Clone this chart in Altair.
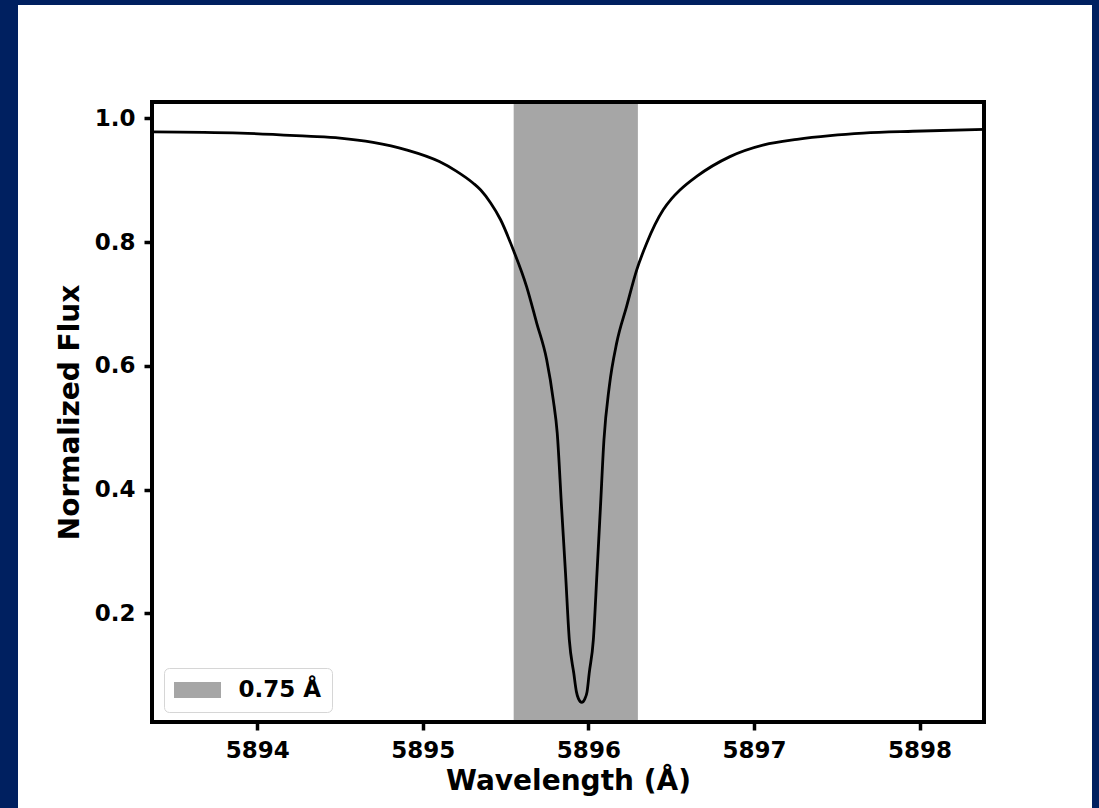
import altair as alt
import pandas as pd

# ---- data ----
wavelength = [5893.37, 5893.90, 5894.30, 5894.50, 5894.70, 5894.90, 5895.10, 5895.20,
              5895.305, 5895.35, 5895.41, 5895.47, 5895.547, 5895.627, 5895.688, 5895.748,
              5895.788, 5895.812, 5895.838, 5895.862, 5895.885, 5895.912, 5895.928, 5895.940,
              5895.960, 5895.979, 5895.992, 5896.005, 5896.030, 5896.052, 5896.073, 5896.094,
              5896.126, 5896.171, 5896.231, 5896.292, 5896.352, 5896.452, 5896.503, 5896.553,
              5896.654, 5896.855, 5897.06, 5897.26, 5897.46, 5897.66, 5897.96, 5898.39]
flux = [0.978, 0.976, 0.971, 0.968, 0.961, 0.949, 0.930, 0.915,
        0.895, 0.884, 0.863, 0.836, 0.787, 0.728, 0.669, 0.610,
        0.545, 0.491, 0.372, 0.265, 0.157, 0.103, 0.073, 0.062,
        0.056, 0.062, 0.073, 0.103, 0.157, 0.265, 0.372, 0.480,
        0.566, 0.637, 0.696, 0.755, 0.798, 0.852, 0.870, 0.884,
        0.906, 0.938, 0.957, 0.966, 0.972, 0.976, 0.979, 0.982]
band_start = [5895.549]
band_end = [5896.299]
band_label = ["0.75 Å"]
x_ticks = [5894, 5895, 5896, 5897, 5898]
y_ticks = [0.2, 0.4, 0.6, 0.8, 1.0]

FONT = "DejaVu Sans"
NAVY = "#002060"
BAND = "#a6a6a6"

line_df = pd.DataFrame({"wavelength": wavelength, "flux": flux})
band_df = pd.DataFrame({"start": band_start, "end": band_end, "label": band_label})
one_df = pd.DataFrame({"k": [0]})

x_scale = alt.Scale(domain=[5893.365, 5898.389], nice=False, zero=False)
y_scale = alt.Scale(domain=[0.0243, 1.0263], nice=False, zero=False)

common_axis = dict(
    grid=False, domain=False, ticks=True, tickSize=8, tickWidth=3.5, tickColor="black",
    tickOpacity=1,
    labelFont=FONT, labelFontSize=23, labelFontWeight="bold", labelColor="black",
    labelPadding=9, labelFlush=False,
    titleFont=FONT, titleFontSize=28, titleFontWeight="bold", titleColor="black",
    zindex=1,
)
x_axis = alt.Axis(title="Wavelength (Å)", values=x_ticks, format="d", titlePadding=5, **common_axis)
y_axis = alt.Axis(title="Normalized Flux", values=y_ticks, format=".1f", titlePadding=10, **common_axis)

# white figure panel on navy background
panel = alt.Chart(one_df).mark_rect(color="white").encode(
    x=alt.value(-134), x2=alt.value(940), y=alt.value(-97), y2=alt.value(720)
)

band = alt.Chart(band_df).mark_rect(opacity=1).encode(
    x=alt.X("start:Q", scale=x_scale, axis=x_axis),
    x2="end:Q",
    y=alt.value(0),
    y2=alt.value("height"),
    color=alt.Color(
        "label:N",
        scale=alt.Scale(domain=band_label, range=[BAND]),
        legend=alt.Legend(
            title=None, orient="none", legendX=12, legendY=566, direction="vertical",
            padding=10, fillColor="white", strokeColor="#d6d6d6", cornerRadius=5,
            symbolType="M-1.958,-0.667L1.958,-0.667L1.958,0.667L-1.958,0.667Z",
            symbolSize=576, symbolOffset=11.5, symbolStrokeWidth=0, symbolOpacity=1,
            labelFont=FONT, labelFontSize=23, labelFontWeight="bold", labelColor="black",
            labelOffset=29, zindex=2,
        ),
    ),
)

line = alt.Chart(line_df).mark_line(color="black", strokeWidth=2.8, interpolate="monotone").encode(
    x=alt.X("wavelength:Q", scale=x_scale, axis=x_axis),
    y=alt.Y("flux:Q", scale=y_scale, axis=y_axis),
)

frame = alt.Chart(one_df).mark_rect(fillOpacity=0, stroke="black", strokeWidth=4).encode(
    x=alt.value(0), x2=alt.value("width"), y=alt.value(0), y2=alt.value("height")
)

chart = alt.layer(panel, band, line, frame).properties(
    width=832, height=620,
    background=NAVY,
    padding={"left": 152, "top": 102, "right": 115, "bottom": 86},
    autosize=alt.AutoSizeParams(type="none"),
).configure_view(strokeWidth=0)

chart.save("out.html", embed_options={"renderer": "svg", "actions": False})
